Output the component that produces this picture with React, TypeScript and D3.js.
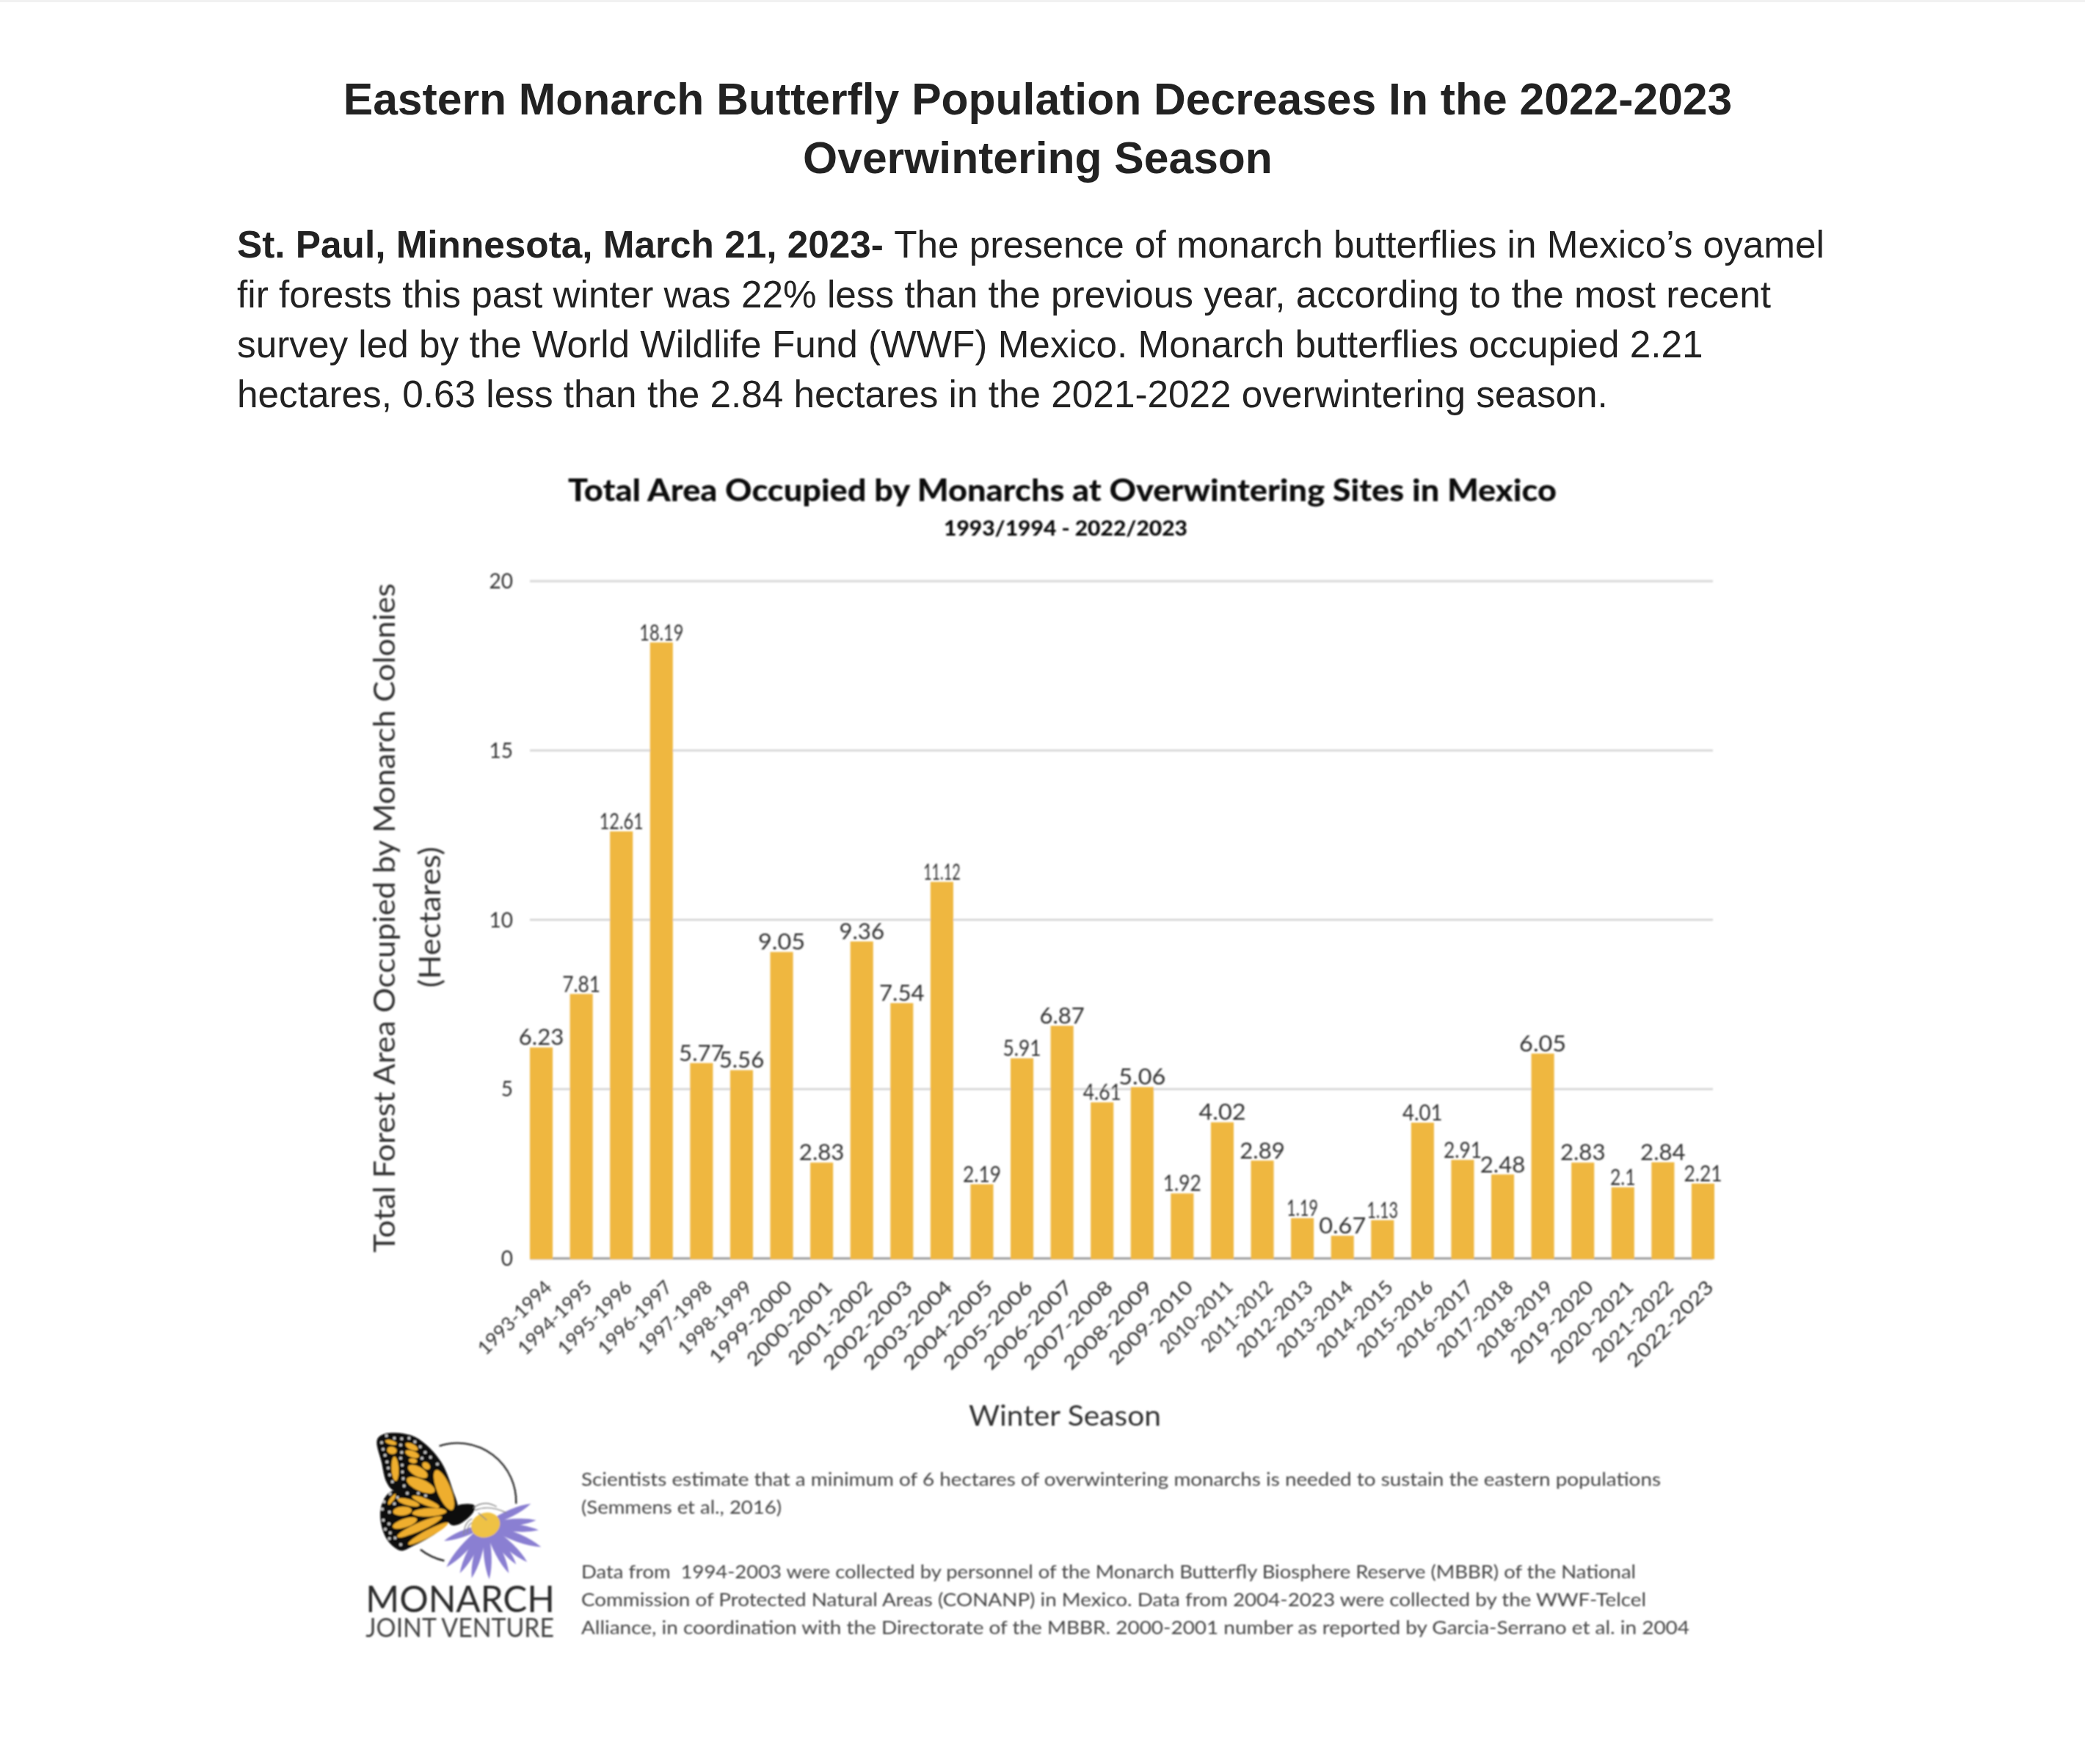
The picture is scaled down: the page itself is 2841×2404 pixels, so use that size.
import { useEffect, useRef } from 'react';
import * as d3 from 'd3';

const WIDTH = 2841;
const HEIGHT = 2404;

const seasons = [
  '1993-1994', '1994-1995', '1995-1996', '1996-1997', '1997-1998', '1998-1999',
  '1999-2000', '2000-2001', '2001-2002', '2002-2003', '2003-2004', '2004-2005',
  '2005-2006', '2006-2007', '2007-2008', '2008-2009', '2009-2010', '2010-2011',
  '2011-2012', '2012-2013', '2013-2014', '2014-2015', '2015-2016', '2016-2017',
  '2017-2018', '2018-2019', '2019-2020', '2020-2021', '2021-2022', '2022-2023',
];
const hectares = [
  6.23, 7.81, 12.61, 18.19, 5.77, 5.56, 9.05, 2.83, 9.36, 7.54, 11.12, 2.19, 5.91, 6.87, 4.61,
  5.06, 1.92, 4.02, 2.89, 1.19, 0.67, 1.13, 4.01, 2.91, 2.48, 6.05, 2.83, 2.1, 2.84, 2.21,
];
const yTicks = [0, 5, 10, 15, 20];

const headline = [
  'Eastern Monarch Butterfly Population Decreases In the 2022-2023',
  'Overwintering Season',
];
const bodyLines = [
  'The presence of monarch butterflies in Mexico’s oyamel',
  'fir forests this past winter was 22% less than the previous year, according to the most recent',
  'survey led by the World Wildlife Fund (WWF) Mexico. Monarch butterflies occupied 2.21',
  'hectares, 0.63 less than the 2.84 hectares in the 2021-2022 overwintering season.',
];
const footnotes = [
  { text: 'Scientists estimate that a minimum of 6 hectares of overwintering monarchs is needed to sustain the eastern populations', y: 2025, w: 1471 },
  { text: '(Semmens et al., 2016)', y: 2063, w: 273 },
  { text: 'Data from  1994-2003 were collected by personnel of the Monarch Butterfly Biosphere Reserve (MBBR) of the National', y: 2151, w: 1437 },
  { text: 'Commission of Protected Natural Areas (CONANP) in Mexico. Data from 2004-2023 were collected by the WWF-Telcel', y: 2189, w: 1451 },
  { text: 'Alliance, in coordination with the Directorate of the MBBR. 2000-2001 number as reported by Garcia-Serrano et al. in 2004', y: 2227, w: 1510 },
];

// logo pieces, in the 3x zoom space of the logo crop
const petalTips = [
  [790, 358], [812, 425], [822, 466], [832, 535], [775, 596], [730, 606], [700, 642],
  [620, 667], [548, 662], [500, 642], [445, 617], [435, 510],
];
const orangeCells = [
  [218, 107, 24, 9, 15], [222, 140, 20, 15, 10], [235, 215, 15, 50, -3], [303, 125, 28, 12, 25],
  [305, 155, 30, 13, 20], [308, 182, 17, 10, 10], [328, 226, 44, 20, 28], [362, 203, 18, 13, 40],
  [340, 282, 62, 24, 24], [435, 302, 28, 88, -22], [290, 352, 46, 13, 15], [360, 350, 60, 13, 22],
  [265, 388, 38, 18, -5], [375, 393, 70, 17, -3], [275, 437, 52, 18, -18], [335, 452, 100, 17, -24],
  [370, 480, 92, 15, -28], [222, 340, 8, 26, 35],
];
const wingDots = [
  [200, 80], [232, 90], [180, 108], [186, 135], [194, 160], [202, 187], [207, 212], [213, 240], [224, 268],
  [262, 92], [292, 90], [316, 105], [338, 125], [358, 148], [380, 168], [408, 196], [258, 118], [262, 148],
  [258, 172], [264, 200], [265, 228], [268, 255], [272, 285], [345, 172], [215, 318], [285, 315], [330, 315],
  [360, 325], [245, 332], [232, 358], [190, 350], [183, 380], [212, 392], [187, 425], [210, 440], [195, 462],
  [215, 477], [235, 498], [258, 525], [212, 500],
];

// the source font has a narrow 1 and a round 0
const glyphWidth = (ch: string) => {
  if (ch === '0') return 20;
  if (ch === '1') return 8;
  if (ch === '-' || ch === '.') return 9;
  return 17.5;
};
const labelWidth = (s: string) => d3.sum(s.split(''), glyphWidth);

export default function App() {
  const svgRef = useRef<SVGSVGElement>(null);

  useEffect(() => {
    if (!svgRef.current) return;
    const svg = d3.select(svgRef.current);
    svg.selectAll('*').remove();

    const chartFont = 'Lato, sans-serif';
    const docFont = '"Liberation Sans", Arial, sans-serif';
    const ink = '#222';

    const fit = (sel: any, w: number) => sel.attr('textLength', w).attr('lengthAdjust', 'spacingAndGlyphs');

    svg.append('rect').attr('width', WIDTH).attr('height', HEIGHT).attr('fill', '#fff');
    svg.append('rect').attr('width', WIDTH).attr('height', 3).attr('fill', '#f1f1f1');

    // the chart sits in the page as a slightly soft raster
    svg.append('defs').append('filter')
      .attr('id', 'soft')
      .attr('filterUnits', 'userSpaceOnUse')
      .attr('x', 0).attr('y', 620).attr('width', WIDTH).attr('height', 1700)
      .append('feGaussianBlur').attr('stdDeviation', 0.8);

    // ── Page text ──────────────────────────────────────────
    headline.forEach((line, i) => {
      svg.append('text')
        .attr('x', 1414).attr('y', 156 + i * 80)
        .attr('text-anchor', 'middle')
        .attr('font-family', docFont).attr('font-weight', 700).attr('font-size', 60.6)
        .attr('fill', ink)
        .text(line);
    });

    bodyLines.forEach((line, i) => {
      const t = svg.append('text')
        .attr('x', 323).attr('y', 351 + i * 68)
        .attr('font-family', docFont).attr('font-size', 51.3)
        .attr('fill', ink);
      if (i === 0) {
        t.append('tspan').attr('font-weight', 700).text('St. Paul, Minnesota, March 21, 2023- ');
      }
      t.append('tspan').text(line);
    });

    const chart = svg.append('g').attr('filter', 'url(#soft)');

    // ── Scales ─────────────────────────────────────────────
    const x = d3.scaleBand<string>().domain(seasons).range([722, 2336]).paddingInner(0.43).paddingOuter(0);
    const y = d3.scaleLinear().domain([0, 20]).range([1715, 792]);

    // ── Chart titles ───────────────────────────────────────
    fit(chart.append('text')
      .attr('x', 774).attr('y', 683)
      .attr('font-family', chartFont).attr('font-weight', 900).attr('font-size', 42)
      .attr('fill', '#111')
      .text('Total Area Occupied by Monarchs at Overwintering Sites in Mexico'), 1347);
    fit(chart.append('text')
      .attr('x', 1286).attr('y', 730)
      .attr('font-family', chartFont).attr('font-weight', 900).attr('font-size', 29)
      .attr('fill', '#111')
      .text('1993/1994 - 2022/2023'), 332);

    // ── Grid ───────────────────────────────────────────────
    yTicks.forEach(tick => {
      chart.append('line')
        .attr('x1', 722).attr('x2', 2334)
        .attr('y1', y(tick)).attr('y2', y(tick))
        .attr('stroke', tick === 0 ? '#9a9a9a' : '#d8d8d8').attr('stroke-width', 3);
      chart.append('text')
        .attr('x', 699).attr('y', y(tick) + 10)
        .attr('text-anchor', 'end')
        .attr('font-family', chartFont).attr('font-size', 28)
        .attr('fill', '#333')
        .text(tick);
    });

    // ── Bars and labels ────────────────────────────────────
    seasons.forEach((season, i) => {
      const bx = x(season)!;
      const v = hectares[i];
      chart.append('rect')
        .attr('x', bx).attr('y', y(v))
        .attr('width', x.bandwidth()).attr('height', y(0) - y(v) + 1)
        .attr('fill', '#EFB740');
    });
    seasons.forEach((season, i) => {
      const cx = x(season)! + x.bandwidth() / 2;
      const v = hectares[i];
      fit(chart.append('text')
        .attr('x', cx).attr('y', y(v) - 3)
        .attr('text-anchor', 'middle')
        .attr('font-family', chartFont).attr('font-size', 30)
        .attr('fill', '#333')
        .text(v), labelWidth(String(v)));
      fit(chart.append('text')
        .attr('transform', `translate(${cx + 16}, 1756) rotate(-45)`)
        .attr('text-anchor', 'end')
        .attr('font-family', chartFont).attr('font-size', 26)
        .attr('fill', '#333')
        .text(season), labelWidth(season));
    });

    // ── Axis titles ────────────────────────────────────────
    fit(chart.append('text')
      .attr('transform', 'translate(538, 1251) rotate(-90)')
      .attr('text-anchor', 'middle')
      .attr('font-family', chartFont).attr('font-size', 40)
      .attr('fill', '#333')
      .text('Total Forest Area Occupied by Monarch Colonies'), 912);
    fit(chart.append('text')
      .attr('transform', 'translate(600, 1250) rotate(-90)')
      .attr('text-anchor', 'middle')
      .attr('font-family', chartFont).attr('font-size', 40)
      .attr('fill', '#333')
      .text('(Hectares)'), 192);
    fit(chart.append('text')
      .attr('x', 1320).attr('y', 1943)
      .attr('font-family', chartFont).attr('font-size', 38)
      .attr('fill', '#333')
      .text('Winter Season'), 262);

    // ── Footnotes ──────────────────────────────────────────
    footnotes.forEach(f => {
      fit(chart.append('text')
        .attr('x', 792).attr('y', f.y)
        .attr('xml:space', 'preserve')
        .attr('font-family', chartFont).attr('font-size', 25)
        .attr('fill', '#444')
        .text(f.text), f.w);
    });

    // ── Logo ───────────────────────────────────────────────
    const logo = chart.append('g').attr('transform', 'translate(460, 1930) scale(0.3333)');
    const ring = d3.path();
    ring.arc(490, 350, 240, -Math.PI * 0.6, Math.PI * 0.01);
    logo.append('path').attr('d', ring.toString()).attr('fill', 'none').attr('stroke', '#222').attr('stroke-width', 7);
    const ringLow = d3.path();
    ringLow.arc(490, 350, 247, Math.PI * 0.71, Math.PI * 0.57, true);
    logo.append('path').attr('d', ringLow.toString()).attr('fill', 'none').attr('stroke', '#222').attr('stroke-width', 7);

    // flower petals
    const cx = 605;
    const cy = 445;
    petalTips.forEach(([tx, ty]) => {
      const ang = Math.atan2(ty - cy, tx - cx);
      const len = Math.hypot(tx - cx, ty - cy);
      logo.append('path')
        .attr('transform', `translate(${cx}, ${cy}) rotate(${(ang * 180) / Math.PI})`)
        .attr('d', `M10,-8 Q${len * 0.65},-${len * 0.12} ${len},0 Q${len * 0.65},${len * 0.12} 10,8 Z`)
        .attr('fill', '#8a7fd2');
    });

    // wings and body
    const lineGen = d3.line().curve(d3.curveCatmullRomClosed.alpha(0.5));
    const upperWing = [[162, 95], [200, 70], [300, 78], [360, 115], [425, 190], [470, 300], [490, 385], [440, 410], [330, 320], [230, 305], [200, 270], [180, 190]] as [number, number][];
    const lowerWing = [[178, 370], [215, 310], [300, 305], [400, 345], [470, 400], [420, 465], [300, 535], [260, 550], [210, 515], [180, 450]] as [number, number][];
    const body = [[445, 415], [490, 365], [560, 365], [555, 392], [500, 440], [465, 445]] as [number, number][];
    [upperWing, lowerWing, body].forEach(pts => {
      logo.append('path').attr('d', lineGen(pts)).attr('fill', '#0d0d0d');
    });
    orangeCells.forEach(([ex, ey, rx, ry, rot]) => {
      logo.append('ellipse')
        .attr('transform', `translate(${ex}, ${ey}) rotate(${rot})`)
        .attr('rx', rx).attr('ry', ry)
        .attr('fill', '#EFAE2E');
    });
    wingDots.forEach(([dx, dy]) => {
      logo.append('circle').attr('cx', dx).attr('cy', dy).attr('r', 6).attr('fill', '#ccc');
    });

    // flower centre and legs
    logo.append('ellipse')
      .attr('transform', 'translate(605, 445) rotate(-20)')
      .attr('rx', 60).attr('ry', 50)
      .attr('fill', '#EFC244');
    logo.append('path')
      .attr('d', 'M555,375 Q600,340 650,370 M560,385 Q620,360 690,395 M575,395 L610,425 M515,485 Q520,430 550,420 M530,480 Q530,445 550,435')
      .attr('fill', 'none').attr('stroke', '#888').attr('stroke-width', 4);

    fit(logo.append('text')
      .attr('x', 115).attr('y', 800)
      .attr('font-family', chartFont).attr('font-weight', 400).attr('font-size', 152)
      .attr('fill', '#2a2a2a')
      .text('MONARCH'), 773);
    fit(logo.append('text')
      .attr('x', 115).attr('y', 903)
      .attr('font-family', chartFont).attr('font-weight', 400).attr('font-size', 108)
      .attr('fill', '#444')
      .text('JOINT VENTURE'), 770);
  }, []);

  return (
    <svg
      ref={svgRef}
      width={WIDTH}
      height={HEIGHT}
      style={{ position: 'absolute', left: 0, top: 0, display: 'block' }}
    />
  );
}
